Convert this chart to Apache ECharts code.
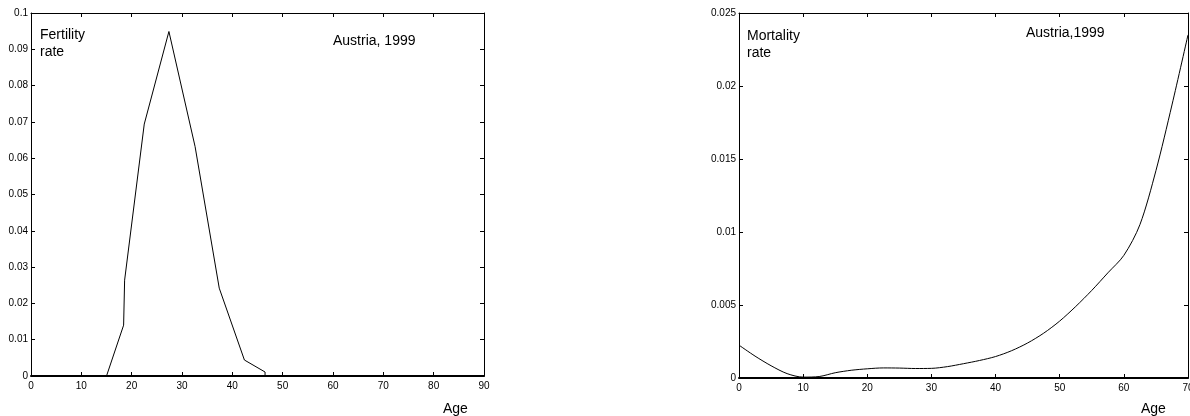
<!DOCTYPE html>
<html>
<head>
<meta charset="utf-8">
<script src="https://cdn.jsdelivr.net/npm/echarts@6/dist/echarts.min.js"></script>
<style>
html,body{margin:0;padding:0;background:#fff;}
#chart{width:1190px;height:416px;}
</style>
</head>
<body>
<div id="chart"></div>
<script>
// Fertility rate by age, Austria 1999
var fertAges  = [0, 15.0, 18.4, 18.6, 22.5, 27.4, 32.6, 37.4, 42.4, 46.5, 46.5, 90];
var fertRates = [0, 0, 0.0140, 0.0264, 0.0694, 0.0949, 0.0632, 0.0242, 0.0044, 0.0011, 0, 0];

// Mortality rate by age, Austria 1999
var mortAges  = [0, 2.5, 5, 7.5, 10, 12.5, 15, 17.5, 20, 22.5, 25, 27.5, 30, 32.5, 35, 37.5, 40, 42.5, 45, 47.5, 50, 52.5, 55, 57.5, 60, 62.5, 65, 67.5, 70];
var mortRates = [0.00225, 0.0015, 0.00084, 0.0003, 0.00006, 0.0001, 0.00036, 0.00053, 0.00063, 0.00069, 0.00068, 0.00065, 0.00066, 0.00078, 0.00098, 0.0012, 0.00147, 0.00187, 0.0024, 0.00307, 0.0039, 0.0049, 0.006, 0.0072, 0.0084, 0.0105, 0.0142, 0.0187, 0.0235];

var fertXTicks = {min: 0, max: 90, interval: 10};
var fertYTicks = {min: 0, max: 0.1, interval: 0.01};
var mortXTicks = {min: 0, max: 70, interval: 10};
var mortYTicks = {min: 0, max: 0.025, interval: 0.005};

var texts = {
  fertLabel: 'Fertility\nrate',
  mortLabel: 'Mortality\nrate',
  fertTitle: 'Austria, 1999',
  mortTitle: 'Austria,1999',
  xName: 'Age'
};

function pairs(xs, ys) { return xs.map(function (x, i) { return [x, ys[i]]; }); }

var FONT = 'Liberation Sans, Arial, Helvetica, sans-serif';
var lblStyle = {color: '#000', fontSize: 10, fontFamily: FONT};

function xAx(grid, t, pos) {
  var bottom = pos === 'bottom';
  return {
    type: 'value', gridIndex: grid, position: pos,
    min: t.min, max: t.max, interval: t.interval,
    axisLine: {show: true, onZero: false, lineStyle: {color: '#000', width: bottom ? 2 : 1}},
    axisTick: {show: true, inside: true, length: 4, lineStyle: {color: '#000', width: 1}},
    axisLabel: {show: bottom, margin: 5, hideOverlap: false, showMinLabel: true, showMaxLabel: true, ...lblStyle},
    splitLine: {show: false}
  };
}
function yAx(grid, t, pos) {
  var left = pos === 'left';
  return {
    type: 'value', gridIndex: grid, position: pos,
    min: t.min, max: t.max, interval: t.interval,
    axisLine: {show: true, onZero: false, lineStyle: {color: '#000', width: 1}},
    axisTick: {show: true, inside: true, length: 4, lineStyle: {color: '#000', width: 1}},
    axisLabel: {show: left, margin: 3, showMinLabel: true, showMaxLabel: true, ...lblStyle},
    splitLine: {show: false}
  };
}

var chart = echarts.init(document.getElementById('chart'), null, {renderer: 'canvas'});
chart.setOption({
  backgroundColor: '#fff',
  animation: false,
  grid: [
    {left: 31, top: 13, width: 453, height: 363, containLabel: false, outerBoundsMode: 'none'},
    {left: 739, top: 13, width: 449, height: 365, containLabel: false, outerBoundsMode: 'none'}
  ],
  xAxis: [
    xAx(0, fertXTicks, 'bottom'), xAx(0, fertXTicks, 'top'),
    xAx(1, mortXTicks, 'bottom'), xAx(1, mortXTicks, 'top')
  ],
  yAxis: [
    yAx(0, fertYTicks, 'left'), yAx(0, fertYTicks, 'right'),
    yAx(1, mortYTicks, 'left'), yAx(1, mortYTicks, 'right')
  ],
  series: [
    {
      type: 'line', xAxisIndex: 0, yAxisIndex: 0,
      data: pairs(fertAges, fertRates),
      showSymbol: false, symbol: 'none',
      lineStyle: {color: '#000', width: 1}
    },
    {
      type: 'line', xAxisIndex: 2, yAxisIndex: 2,
      data: pairs(mortAges, mortRates),
      showSymbol: false, symbol: 'none', smooth: 0.3,
      lineStyle: {color: '#000', width: 1}
    }
  ],
  graphic: [
    {type: 'text', left: 40, top: 27, style: {text: texts.fertLabel, fill: '#000', font: '14px ' + FONT, lineHeight: 17}},
    {type: 'text', left: 333, top: 34, style: {text: texts.fertTitle, fill: '#000', font: '14px ' + FONT}},
    {type: 'text', left: 443, top: 402, style: {text: texts.xName, fill: '#000', font: '14px ' + FONT}},
    {type: 'text', left: 747, top: 28, style: {text: texts.mortLabel, fill: '#000', font: '14px ' + FONT, lineHeight: 17}},
    {type: 'text', left: 1026, top: 26, style: {text: texts.mortTitle, fill: '#000', font: '14px ' + FONT}},
    {type: 'text', left: 1141, top: 402, style: {text: texts.xName, fill: '#000', font: '14px ' + FONT}}
  ]
});
</script>
</body>
</html>
